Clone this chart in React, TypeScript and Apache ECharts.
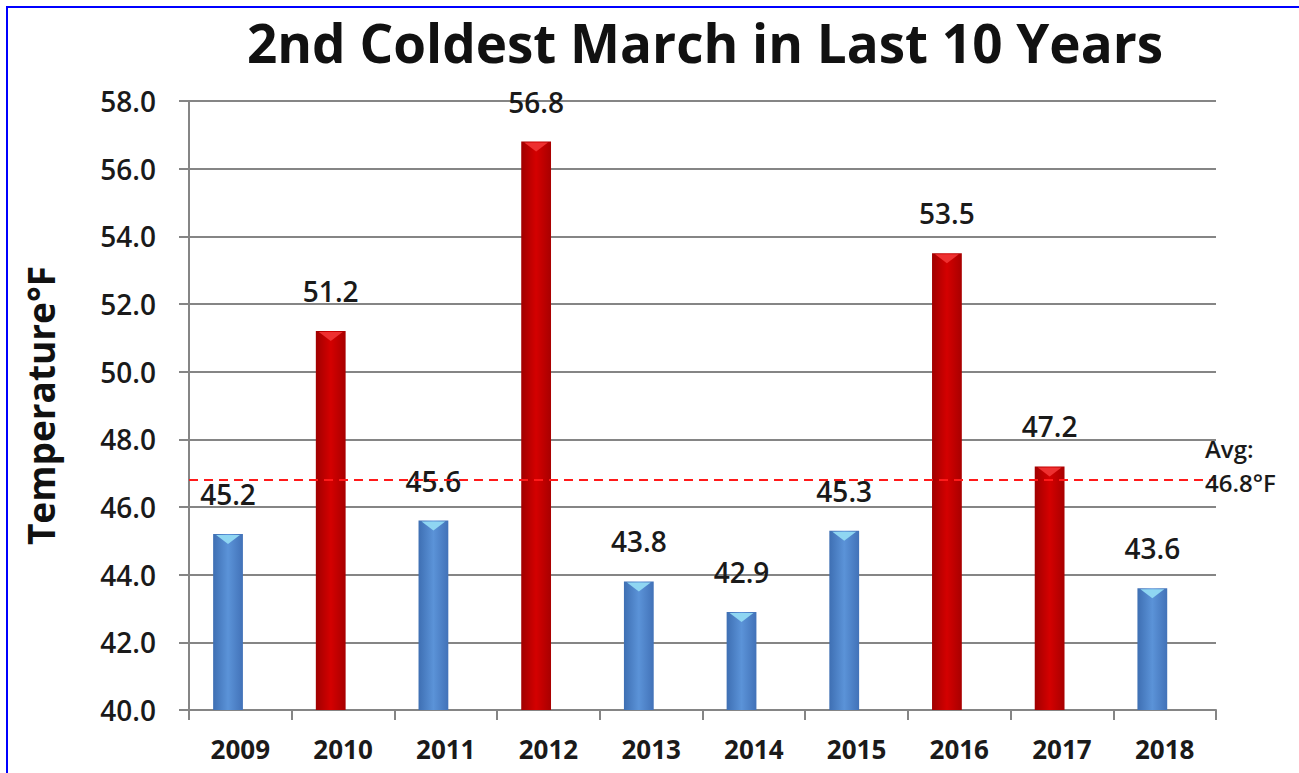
import React, { useEffect, useRef } from "react";
import * as echarts from "echarts";

const years = ["2009", "2010", "2011", "2012", "2013", "2014", "2015", "2016", "2017", "2018"];
const temps = [45.2, 51.2, 45.6, 56.8, 43.8, 42.9, 45.3, 53.5, 47.2, 43.6];
const average = 46.8;
const yMin = 40;
const yMax = 58;
const yStep = 2;

const FONT = "'Open Sans', 'Noto Sans', sans-serif";

export default function App() {
  const ref = useRef<HTMLDivElement>(null);
  useEffect(() => {
    if (!ref.current) return;
    const chart = echarts.init(ref.current, null, { renderer: "svg" });
    const option: any = {
      animation: false,
      backgroundColor: "#ffffff",
      title: {
        text: "2nd Coldest March in Last 10 Years",
        left: 700,
        textAlign: "center",
        top: 11,
        textStyle: { fontFamily: FONT, fontSize: 53, fontWeight: "bold", color: "#111" },
      },
      graphic: [
        {
          type: "rect",
          shape: { x: 7, y: 7, width: 1400, height: 900 },
          style: { fill: "none", stroke: "#0000ff", lineWidth: 2 },
          silent: true,
          z: 100,
        },
      ],
      grid: { left: 189, right: 83, top: 101, bottom: 63 },
      xAxis: {
        type: "category",
        data: years,
        boundaryGap: true,
        axisLine: { lineStyle: { color: "#858585", width: 2 } },
        axisTick: { show: true, length: 10, lineStyle: { color: "#858585", width: 2 } },
        axisLabel: {
          margin: 26,
          fontFamily: FONT,
          fontSize: 26,
          fontWeight: "bold",
          color: "#1a1a1a",
        },
        splitLine: { show: false },
      },
      yAxis: {
        type: "value",
        min: yMin,
        max: yMax,
        interval: yStep,
        name: "Temperature°F",
        nameLocation: "middle",
        nameRotate: 90,
        nameGap: 130,
        nameTextStyle: { fontFamily: FONT, fontSize: 37, fontWeight: "bold", color: "#111" },
        axisLine: { show: true, lineStyle: { color: "#858585", width: 2 } },
        axisTick: { show: true, length: 10, lineStyle: { color: "#858585", width: 2 } },
        axisLabel: {
          margin: 33,
          formatter: (v: number) => v.toFixed(1),
          fontFamily: FONT,
          fontSize: 28,
          fontWeight: 600,
          color: "#1a1a1a",
        },
        splitLine: { show: true, lineStyle: { color: "#858585", width: 2 } },
      },
      series: [
        {
          type: "custom",
          data: temps.map((v, i) => [i, v]),
          renderItem: (params: any, api: any) => {
            const idx = api.value(0);
            const val = api.value(1);
            const top = api.coord([idx, val]);
            const base = api.coord([idx, yMin]);
            const band = api.size([1, 0])[0];
            const w = band * 0.29;
            const cx = top[0] - band * 0.12;
            const x0 = cx - w / 2;
            const warm = val > average;
            const fill = warm
              ? new echarts.graphic.LinearGradient(0, 0, 1, 0, [
                  { offset: 0, color: "#a00000" },
                  { offset: 0.5, color: "#d40000" },
                  { offset: 1, color: "#a80000" },
                ])
              : new echarts.graphic.LinearGradient(0, 0, 1, 0, [
                  { offset: 0, color: "#3e6fb3" },
                  { offset: 0.5, color: "#5b93d8" },
                  { offset: 1, color: "#4272b8" },
                ]);
            const capColor = warm ? "#ee3030" : "#8fd6f2";
            return {
              type: "group",
              children: [
                {
                  type: "rect",
                  shape: { x: x0, y: top[1], width: w, height: base[1] - top[1] },
                  style: { fill },
                },
                {
                  type: "polygon",
                  shape: {
                    points: [
                      [x0 + 3, top[1] + 1],
                      [x0 + w - 3, top[1] + 1],
                      [cx, top[1] + 10],
                    ],
                  },
                  style: { fill: capColor },
                },
                {
                  type: "text",
                  style: {
                    text: val.toFixed(1),
                    x: cx,
                    y: top[1] - 40,
                    align: "center",
                    verticalAlign: "middle",
                    fontFamily: FONT,
                    fontSize: 28,
                    fontWeight: 600,
                    fill: "#1a1a1a",
                  },
                },
              ],
            };
          },
          z: 2,
        },
        {
          type: "line",
          data: years.map(() => null),
          symbol: "none",
          z: 5,
          markLine: {
            silent: true,
            symbol: "none",
            data: [{ yAxis: average }],
            lineStyle: { color: "#ff1a1a", type: [9, 6], width: 2 },
            label: {
              show: true,
              position: "end",
              formatter: "Avg:\n" + average.toFixed(1) + "°F",
              fontFamily: FONT,
              fontSize: 24,
              fontWeight: 600,
              color: "#1a1a1a",
              lineHeight: 34,
              align: "left",
              offset: [-16, -14],
            },
          },
        },
      ],
    };
    chart.setOption(option);
    return () => chart.dispose();
  }, []);
  return (
    <div
      ref={ref}
      style={{ position: "absolute", left: 0, top: 0, width: 1299, height: 773 }}
    />
  );
}
